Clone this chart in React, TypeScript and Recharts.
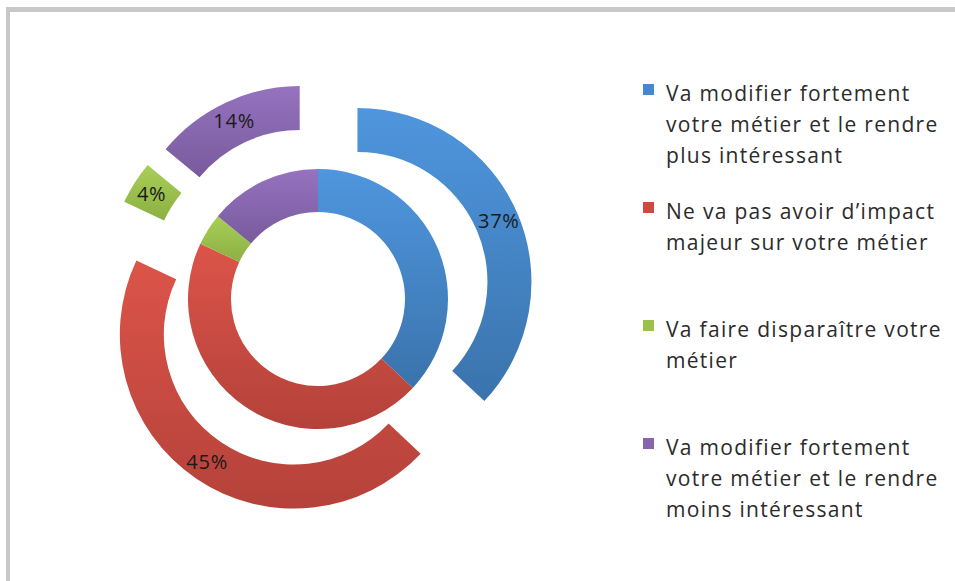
import React from 'react';
import { PieChart, Pie, Cell, Legend } from 'recharts';

// answer categories (same order in both rings)
const categories = [
  'Va modifier fortement votre métier et le rendre plus intéressant',
  'Ne va pas avoir d’impact majeur sur votre métier',
  'Va faire disparaître votre métier',
  'Va modifier fortement votre métier et le rendre moins intéressant',
];
const innerValues = [37, 45, 4, 14];
const outerValues = [37, 45, 4, 14];

const COLORS = ['#4688CD', '#CC4B41', '#9BC04C', '#8566AC'];
const GRADIENTS = [
  ['#4F96DE', '#3A73AC'],
  ['#DC5449', '#B4423A'],
  ['#A8CE58', '#8CB042'],
  ['#9573BF', '#785A9C'],
];

const CX = 318;
const CY = 299;
const EXPLODE = 43;
const RADIAN = Math.PI / 180;
const LEGEND_TOPS = [78, 196, 314, 432];

const innerData = categories.map((name, i) => ({ name, value: innerValues[i] }));
const outerData = categories.map((name, i) => ({ name, value: outerValues[i] }));

// centre of each exploded slice of the outer ring, moved along its bisector
const outerTotal = outerValues.reduce((a, b) => a + b, 0);
const outerCenters = outerValues.map((v, i) => {
  const before = outerValues.slice(0, i).reduce((a, b) => a + b, 0);
  const mid = ((before + v / 2) / outerTotal) * 2 * Math.PI;
  return { cx: CX + EXPLODE * Math.sin(mid), cy: CY - EXPLODE * Math.cos(mid) };
});

const makeLabel = (only: number) => (props: any) => {
  const { cx, cy, midAngle, innerRadius, outerRadius, percent, index } = props;
  if (index !== only) return null;
  const r = (innerRadius + outerRadius) / 2 + 2;
  const x = cx + r * Math.cos(-midAngle * RADIAN);
  const y = cy + r * Math.sin(-midAngle * RADIAN);
  return (
    <text x={x} y={y} textAnchor="middle" dominantBaseline="central"
      fill="#1a1a1a" fontSize={20} letterSpacing={0.8} fontFamily="'Open Sans', sans-serif">
      {`${Math.round(percent * 100)}%`}
    </text>
  );
};

const renderLegend = () => (
  <div style={{ position: 'relative', width: 310, height: 560, fontFamily: "'Open Sans', sans-serif" }}>
    {categories.map((name, i) => (
      <div key={name} style={{ position: 'absolute', left: 0, top: LEGEND_TOPS[i], width: 310 }}>
        <span style={{ position: 'absolute', left: 0, top: 6, width: 11, height: 11, background: COLORS[i] }} />
        <div style={{
          marginLeft: 23, width: 295, fontSize: 21, letterSpacing: 1.3, lineHeight: '31px', color: '#2b2b2b',
        }}>{name}</div>
      </div>
    ))}
  </div>
);

export default function App() {
  return (
    <div style={{ position: 'absolute', left: 0, top: 0, width: 955, height: 581, overflow: 'hidden', background: '#fff' }}>
      <div style={{
        position: 'absolute', left: 6, top: 7, width: 1000, height: 700,
        borderLeft: '4px solid #c8c8c8', borderTop: '5px solid #c8c8c8',
      }} />
      <PieChart width={955} height={581} margin={{ top: 0, right: 0, bottom: 0, left: 0 }}
        style={{ position: 'absolute', left: 0, top: 0 }}>
        <defs>
          {GRADIENTS.map((g, i) => (
            <linearGradient key={i} id={`grad${i}`} x1="0" y1="0" x2="0" y2="1">
              <stop offset="0%" stopColor={g[0]} />
              <stop offset="100%" stopColor={g[1]} />
            </linearGradient>
          ))}
        </defs>
        <Pie data={innerData} dataKey="value" nameKey="name" cx={CX} cy={CY}
          innerRadius={87} outerRadius={130} startAngle={90} endAngle={-270}
          stroke="none" isAnimationActive={false}>
          {innerData.map((d, i) => <Cell key={d.name} fill={`url(#grad${i})`} />)}
        </Pie>
        {outerCenters.map((c, k) => (
          <Pie key={k} data={outerData} dataKey="value" nameKey="name" cx={c.cx} cy={c.cy}
            innerRadius={130} outerRadius={174} startAngle={90} endAngle={-270}
            stroke="none" isAnimationActive={false} labelLine={false} label={makeLabel(k)}>
            {outerData.map((d, i) => (
              <Cell key={d.name} fill={i === k ? `url(#grad${i})` : 'transparent'} />
            ))}
          </Pie>
        ))}
        <Legend content={renderLegend} wrapperStyle={{ left: 643, top: 0, width: 310, height: 560 }} />
      </PieChart>
    </div>
  );
}
